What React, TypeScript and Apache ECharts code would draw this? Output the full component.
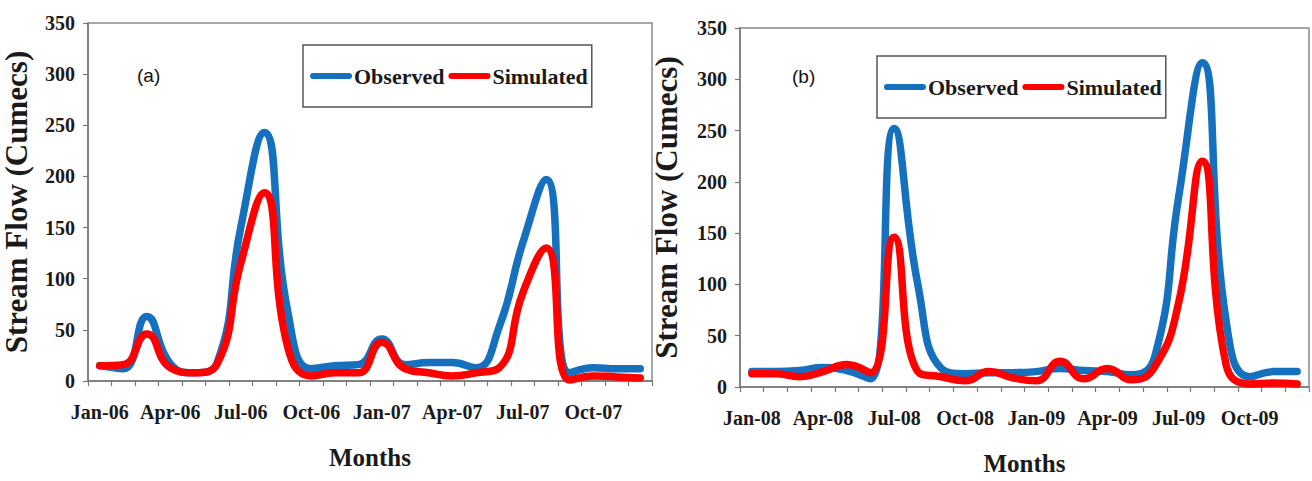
import React, { useEffect, useRef } from "react";
import * as echarts from "echarts";

const monthsA = [
  "Jan-06", "Feb-06", "Mar-06", "Apr-06", "May-06", "Jun-06", "Jul-06", "Aug-06", "Sep-06", "Oct-06", "Nov-06", "Dec-06",
  "Jan-07", "Feb-07", "Mar-07", "Apr-07", "May-07", "Jun-07", "Jul-07", "Aug-07", "Sep-07", "Oct-07", "Nov-07", "Dec-07",
];
const monthsB = [
  "Jan-08", "Feb-08", "Mar-08", "Apr-08", "May-08", "Jun-08", "Jul-08", "Aug-08", "Sep-08", "Oct-08", "Nov-08", "Dec-08",
  "Jan-09", "Feb-09", "Mar-09", "Apr-09", "May-09", "Jun-09", "Jul-09", "Aug-09", "Sep-09", "Oct-09", "Nov-09", "Dec-09",
];
const observedA = [15, 12, 63, 17, 8, 18, 150, 243, 68, 12, 15, 16, 41, 16, 18, 18, 13, 53, 135, 197, 8, 13, 12, 12];
const simulatedA = [15, 16, 46, 13, 8, 17, 115, 184, 33, 5, 8, 8, 38, 12, 8, 5, 8, 13, 86, 130, 1, 5, 4, 3];
const observedB = [15, 15, 16, 19, 16, 8, 252, 100, 18, 13, 14, 14, 15, 18, 16, 15, 12, 30, 185, 316, 65, 10, 15, 15];
const simulatedB = [13, 13, 10, 15, 22, 14, 146, 15, 10, 6, 15, 9, 6, 25, 8, 18, 7, 20, 82, 220, 22, 3, 4, 3];
const yTicks = { min: 0, max: 350, interval: 50 };

const BLUE = "#1570BE";
const RED = "#FF0000";
const SERIF = "'Times New Roman', 'Liberation Serif', serif";
const TXT = "#1a1a1a";
const PILL = "path://M3,0 H39 A3,3 0 0 1 39,6 H3 A3,3 0 0 1 3,0 Z";

function xAxis(idx: number, data: string[]) {
  return {
    type: "category",
    gridIndex: idx,
    data,
    boundaryGap: true,
    name: "Months",
    nameLocation: "middle",
    nameGap: 64,
    nameTextStyle: { fontFamily: SERIF, fontWeight: "bold", fontSize: 25, color: TXT },
    axisLine: { lineStyle: { color: "#777", width: 1.5 } },
    axisTick: { show: true, interval: 0, length: 5, inside: false, lineStyle: { color: "#777", width: 1.2 } },
    axisLabel: { interval: 2, margin: 21, fontFamily: SERIF, fontWeight: "bold", fontSize: 20, color: TXT },
    splitLine: { show: false },
  };
}

function yAxis(idx: number, gap: number) {
  return {
    type: "value",
    gridIndex: idx,
    min: yTicks.min,
    max: yTicks.max,
    interval: yTicks.interval,
    name: "Stream Flow (Cumecs)",
    nameLocation: "middle",
    nameRotate: 90,
    nameGap: gap,
    nameTextStyle: { fontFamily: SERIF, fontWeight: "bold", fontSize: 31, color: TXT },
    axisLine: { show: true, lineStyle: { color: "#777", width: 1.5 } },
    axisTick: { show: true, length: 5, inside: false, lineStyle: { color: "#777", width: 1.2 } },
    axisLabel: { margin: 13, fontFamily: SERIF, fontWeight: "bold", fontSize: 20, color: TXT },
    splitLine: { show: false },
  };
}

function legend(left: number, top: number) {
  return {
    left,
    top,
    orient: "horizontal",
    data: ["Observed", "Simulated"],
    icon: PILL,
    itemWidth: 42,
    itemHeight: 7,
    itemGap: 4,
    padding: [20, 4, 20, 7],
    backgroundColor: "#fff",
    borderColor: "#555",
    borderWidth: 1.5,
    selectedMode: false,
    textStyle: { fontFamily: SERIF, fontWeight: "bold", fontSize: 22, color: TXT, padding: [0, 0, 0, -3] },
  };
}

function line(name: string, data: number[], color: string, idx: number) {
  return {
    type: "line",
    name,
    data,
    xAxisIndex: idx,
    yAxisIndex: idx,
    smooth: 0.5,
    symbol: "none",
    color,
    lineStyle: { color, width: 7.5, cap: "round", join: "round" },
    itemStyle: { color },
  };
}

export default function App() {
  const ref = useRef<HTMLDivElement>(null);
  useEffect(() => {
    if (!ref.current) return;
    const chart = echarts.init(ref.current, undefined, { renderer: "svg" });
    chart.setOption({
      animation: false,
      backgroundColor: "#fff",
      grid: [
        { left: 88, top: 23, width: 564, height: 358, show: true, borderColor: "#8a8a8a", borderWidth: 1.5, containLabel: false },
        { left: 740, top: 28, width: 569, height: 362, show: true, borderColor: "#8a8a8a", borderWidth: 1.5, containLabel: false },
      ],
      xAxis: [xAxis(0, monthsA), xAxis(1, monthsB)],
      yAxis: [yAxis(0, 56), yAxis(1, 58)],
      legend: [legend(303, 45), legend(877, 56)],
      graphic: [
        { type: "text", left: 137, top: 66, style: { text: "(a)", font: "19px 'Liberation Sans', Arial, sans-serif", fill: "#111" } },
        { type: "text", left: 792, top: 67, style: { text: "(b)", font: "19px 'Liberation Sans', Arial, sans-serif", fill: "#111" } },
      ],
      series: [
        line("Observed", observedA, BLUE, 0),
        line("Simulated", simulatedA, RED, 0),
        line("Observed", observedB, BLUE, 1),
        line("Simulated", simulatedB, RED, 1),
      ],
    });
    return () => chart.dispose();
  }, []);
  return <div ref={ref} style={{ position: "absolute", left: 0, top: 0, width: 1312, height: 481 }} />;
}
